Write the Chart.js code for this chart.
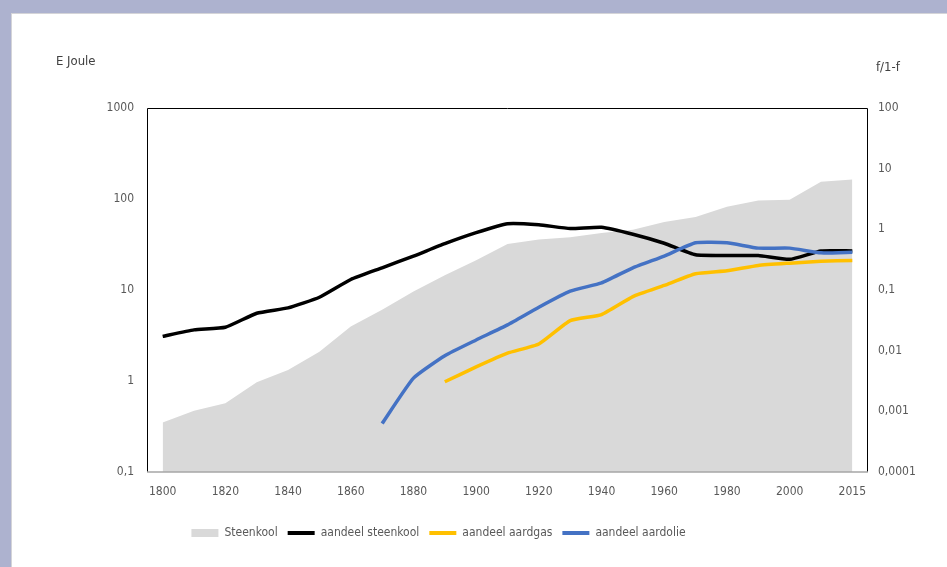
<!DOCTYPE html>
<html>
<head>
<meta charset="utf-8">
<script src="https://cdn.jsdelivr.net/npm/chart.js@4/dist/chart.umd.min.js"></script>
<style>
  html, body { margin: 0; padding: 0; }
  body { width: 947px; height: 567px; background: #adb2cf; position: relative; overflow: hidden; }
  #panel { position: absolute; left: 11px; top: 13px; width: 936px; height: 554px; background: #fff; border-left: 1px solid #d4d4d8; border-top: 1px solid #d4d4d8; }
  #wrap { position: absolute; left: 0; top: 0; width: 947px; height: 567px; }
</style>
</head>
<body>
<div id="panel"></div>
<div id="wrap"><canvas id="chart"></canvas></div>
<script>
// --- data ---
const years = ['1800','1810','1820','1830','1840','1850','1860','1870','1880','1890','1900',
               '1910','1920','1930','1940','1950','1960','1970','1980','1990','2000','2010','2015'];

// Steenkool, E Joule (left axis)
const steenkool = [0.35, 0.47, 0.57, 0.97, 1.32, 2.1, 3.96, 6.06, 9.6, 14.5, 21.2,
                   32, 35.8, 37.9, 42.4, 46, 56, 63.6, 82, 96, 98, 155, 164];

// shares f/1-f (right axis)
const aandeelSteenkool = [0.0172, 0.022, 0.0243, 0.0414, 0.0507, 0.076, 0.149, 0.232, 0.362, 0.58, 0.88,
                          1.24, 1.19, 1.03, 1.08, 0.83, 0.59, 0.38, 0.37, 0.37, 0.32, 0.44, 0.44];
const aandeelAardgas = [null, null, null, null, null, null, null, null, null, 0.00307, 0.0054,
                        0.0091, 0.0129, 0.0313, 0.0394, 0.078, 0.119, 0.185, 0.207, 0.254, 0.277, 0.298, 0.306];
const aandeelAardolie = [null, null, null, null, null, null, null, 0.00063, 0.00353, 0.00826, 0.015,
                         0.0266, 0.052, 0.0956, 0.131, 0.232, 0.363, 0.6, 0.6, 0.49, 0.49, 0.41, 0.42];

const leftTicks = [0.1, 1, 10, 100, 1000];
const rightTicks = [0.0001, 0.001, 0.01, 0.1, 1, 10, 100];

const FONT = "'Liberation Sans Narrow', 'DejaVu Sans Condensed', 'Liberation Sans', sans-serif";
const fmt = v => String(v).replace('.', ',');

// axis titles + plot frame
const extras = {
    id: 'extras',
    afterLayout(chart) {
        // shift legend a bit to the left like the original
        chart.legend.left -= 35;
        chart.legend.right -= 35;
    },
    afterDraw(chart) {
        const c = chart.ctx;
        const a = chart.chartArea;
        c.save();
        c.strokeStyle = '#000';
        c.lineWidth = 1;
        c.beginPath();
        c.moveTo(a.left + 0.5, a.bottom);
        c.lineTo(a.left + 0.5, a.top + 0.5);
        c.lineTo(a.right - 0.5, a.top + 0.5);
        c.lineTo(a.right - 0.5, a.bottom);
        c.stroke();
        c.strokeStyle = '#a6a6a6';
        c.lineWidth = 1.5;
        c.beginPath();
        c.moveTo(a.left, a.bottom);
        c.lineTo(a.right, a.bottom);
        c.stroke();

        c.fillStyle = '#404040';
        c.font = '13px ' + FONT;
        c.textBaseline = 'middle';
        c.textAlign = 'left';
        c.fillText('E Joule', 56, 62);
        c.fillText('f/1-f', 876, 68);
        c.restore();
    }
};

const ctx = document.getElementById('chart').getContext('2d');
const chart = new Chart(ctx, {
    type: 'line',
    data: {
        labels: years,
        datasets: [
            { label: 'Steenkool', data: steenkool, yAxisID: 'y', fill: 'start',
              backgroundColor: '#d9d9d9', borderColor: '#d9d9d9', borderWidth: 0,
              pointRadius: 0, tension: 0, order: 4 },
            { label: 'aandeel steenkool', data: aandeelSteenkool, yAxisID: 'y1',
              borderColor: '#000000', backgroundColor: '#000000', borderWidth: 3.5,
              pointRadius: 0, tension: 0.15, order: 3 },
            { label: 'aandeel aardgas', data: aandeelAardgas, yAxisID: 'y1',
              borderColor: '#ffc000', backgroundColor: '#ffc000', borderWidth: 3.5,
              pointRadius: 0, tension: 0.15, order: 2 },
            { label: 'aandeel aardolie', data: aandeelAardolie, yAxisID: 'y1',
              borderColor: '#4472c4', backgroundColor: '#4472c4', borderWidth: 3.5,
              pointRadius: 0, tension: 0.15, order: 1 }
        ]
    },
    options: {
        responsive: true,
        maintainAspectRatio: false,
        animation: false,
        layout: { padding: { top: 108, left: 0, right: 0, bottom: 18 } },
        plugins: {
            tooltip: { enabled: false },
            legend: {
                position: 'bottom',
                labels: {
                    color: '#595959',
                    font: { family: FONT, size: 12 },
                    usePointStyle: true,
                    boxHeight: 8,
                    pointStyleWidth: 27,
                    padding: 10,
                    generateLabels(chart) {
                        return chart.data.datasets.map((ds, i) => ({
                            text: ds.label,
                            datasetIndex: i,
                            fillStyle: ds.backgroundColor,
                            strokeStyle: ds.borderColor,
                            lineWidth: i === 0 ? 0 : 4,
                            pointStyle: i === 0 ? 'rect' : 'line',
                            fontColor: '#595959'
                        }));
                    }
                }
            }
        },
        scales: {
            x: {
                type: 'category',
                offset: true,
                grid: { display: false, drawTicks: false },
                border: { display: false },
                afterFit(scale) { scale.height = 45; },
                ticks: {
                    autoSkip: false,
                    maxRotation: 0,
                    padding: 13,
                    color: '#595959',
                    font: { family: FONT, size: 12 },
                    callback(val, i) {
                        return (i % 2 === 0 || i === years.length - 1) ? years[i] : '';
                    }
                }
            },
            y: {
                type: 'logarithmic',
                position: 'left',
                min: 0.1,
                max: 1000,
                grid: { display: false, drawTicks: false },
                border: { display: false },
                afterFit(scale) { scale.width = 147; },
                afterBuildTicks(scale) { scale.ticks = leftTicks.map(v => ({ value: v })); },
                ticks: {
                    padding: 13,
                    color: '#595959',
                    font: { family: FONT, size: 12 },
                    callback: v => fmt(v)
                }
            },
            y1: {
                type: 'logarithmic',
                position: 'right',
                min: 0.0001,
                max: 100,
                grid: { display: false, drawTicks: false },
                border: { display: false },
                afterFit(scale) { scale.width = 79; },
                afterBuildTicks(scale) { scale.ticks = rightTicks.map(v => ({ value: v })); },
                ticks: {
                    padding: 10,
                    color: '#595959',
                    font: { family: FONT, size: 12 },
                    callback: v => fmt(v)
                }
            }
        }
    },
    plugins: [extras]
});
</script>
</body>
</html>
